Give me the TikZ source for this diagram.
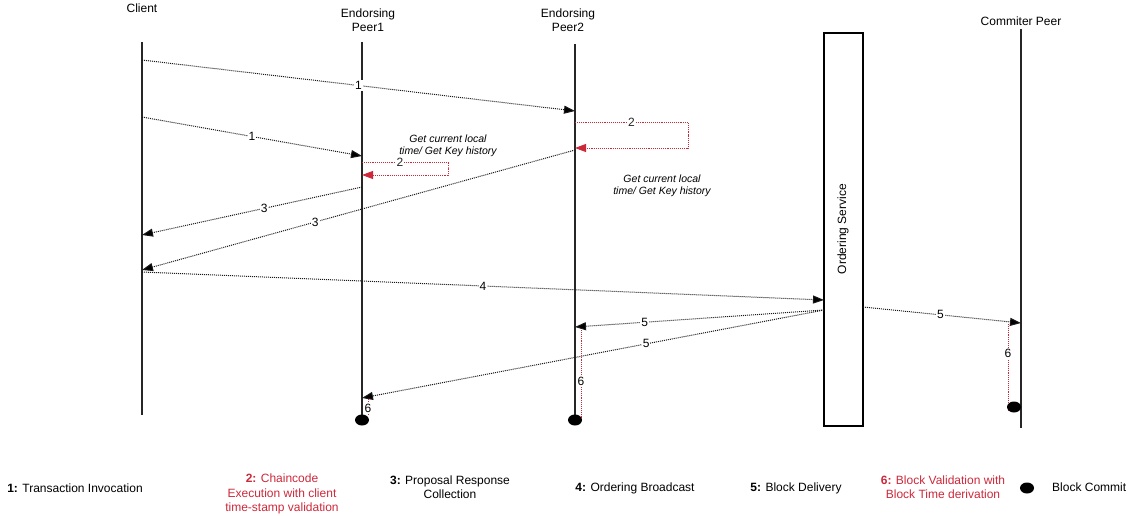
\documentclass[tikz,border=0pt]{standalone}
\usepackage{fontspec}
\setmainfont{Liberation Sans}
\usetikzlibrary{arrows.meta,shapes.geometric}
\definecolor{steppink}{RGB}{205,40,58}

\begin{document}
\begin{tikzpicture}[x=1pt,y=-1pt,
  every node/.style={font=\fontsize{12}{14}\selectfont, inner sep=0pt},
  lifeline/.style={line width=1.3pt, draw=black!85},
  msg/.style={densely dotted, line width=1pt, draw=black!90,
    -{Triangle[length=11pt,width=8pt,fill=black]}},
  selfmsg/.style={densely dotted, line width=0.9pt, draw=steppink,
    -{Triangle[length=11pt,width=8pt,fill=steppink]}},
  validate/.style={densely dotted, line width=0.9pt, draw=steppink},
  lbl/.style={fill=white, inner sep=1pt},
  headtext/.style={align=center, font=\fontsize{12}{14}\selectfont},
  note/.style={align=center, font=\fontsize{10.5}{12}\selectfont\itshape},
  commitdot/.style={ellipse, fill=black, minimum width=14pt, minimum height=11pt},
  legend/.style={align=center, font=\fontsize{12}{14.5}\selectfont},
]
\useasboundingbox (0,0) rectangle (1129,516);

% ---- participants ----
\node[headtext] (hclient) at (142,8) {Client};
\node[headtext] (hpeer1) at (368,20) {Endorsing\\Peer1};
\node[headtext] (hpeer2) at (568,20) {Endorsing\\Peer2};
\node[headtext] (hcommit) at (1021,21) {Commiter Peer};

\coordinate (clientTop) at (142,42);  \coordinate (clientBot) at (142,415);
\coordinate (peer1Top)  at (362,42);  \coordinate (peer1Bot)  at (362,415);
\coordinate (peer2Top)  at (575,44);  \coordinate (peer2Bot)  at (575,415);
\coordinate (commitTop) at (1021,29); \coordinate (commitBot) at (1021,428);

\draw[lifeline] (clientTop) -- (clientBot);
\draw[lifeline] (peer1Top) -- (peer1Bot);
\draw[lifeline] (peer2Top) -- (peer2Bot);
\draw[lifeline] (commitTop) -- (commitBot);

\node[draw, line width=1.3pt, minimum width=39pt, minimum height=393pt]
  (order) at (843.5,229.5) {};
\node[rotate=90] (ordertext) at (843,229) {Ordering Service};

% ---- message end points ----
\coordinate (m1aS) at (142,60);   \coordinate (m1aE) at (575,111);
\coordinate (m1bS) at (142,117);  \coordinate (m1bE) at (362,156);
\coordinate (m3aS) at (362,187);  \coordinate (m3aE) at (142,235);
\coordinate (m3bS) at (575,150);  \coordinate (m3bE) at (142,270);
\coordinate (m4S)  at (142,272);  \coordinate (m4E)  at (824,300);
\coordinate (m5aS) at (824,310);  \coordinate (m5aE) at (575,327);
\coordinate (m5bS) at (824,310);  \coordinate (m5bE) at (362,398);
\coordinate (m5cS) at (863,307);  \coordinate (m5cE) at (1021,323);

% ---- transaction invocation ----
\draw[msg] (m1aS) -- node[lbl,pos=0.5] {1} (m1aE);
\draw[msg] (m1bS) -- node[lbl,pos=0.5] {1} (m1bE);

% ---- chaincode execution (self calls) ----
\coordinate (l1S) at (362,162); \coordinate (l1R) at (448,168); \coordinate (l1E) at (362,175);
\draw[selfmsg] (l1S) -| node[lbl,pos=0.22,text=black!85] {2} (l1R) |- (l1E);
\coordinate (l2S) at (575,122); \coordinate (l2R) at (688,135); \coordinate (l2E) at (575,148);
\draw[selfmsg] (l2S) -| node[lbl,pos=0.25,text=black!85] {2} (l2R) |- (l2E);

\node[note] (note1) at (448,146) {Get current local\\time/ Get Key history};
\node[note] (note2) at (662,186) {Get current local\\time/ Get Key history};

% ---- proposal responses ----
\draw[msg] (m3aS) -- node[lbl,pos=0.445] {3} (m3aE);
\draw[msg] (m3bS) -- node[lbl,pos=0.6] {3} (m3bE);

% ---- ordering broadcast ----
\draw[msg] (m4S) -- node[lbl,pos=0.5] {4} (m4E);

% ---- block delivery ----
\draw[msg] (m5aS) -- node[lbl,pos=0.72] {5} (m5aE);
\draw[msg] (m5bS) -- node[lbl,pos=0.385] {5} (m5bE);
\draw[msg] (m5cS) -- node[lbl,pos=0.49] {5} (m5cE);

% ---- block validation ----
\coordinate (v2S) at (581,330); \coordinate (v2E) at (581,418);
\draw[validate] (v2S) -- node[lbl,pos=0.58] {6} (v2E);
\coordinate (v1S) at (368,399); \coordinate (v1E) at (368,416);
\draw[validate] (v1S) -- node[lbl,pos=0.55] {6} (v1E);
\coordinate (v3S) at (1008,324); \coordinate (v3E) at (1008,411);
\draw[validate] (v3S) -- node[lbl,pos=0.34] {6} (v3E);

% ---- commit markers ----
\node[commitdot] (dot1) at (362,420) {};
\node[commitdot] (dot2) at (575,420) {};
\node[commitdot] (dot3) at (1014,407) {};

% ---- legend ----
\node[legend] (leg1) at (75,488) {\textbf{1:} Transaction Invocation};
\node[legend, text=steppink] (leg2) at (282,494) {\textbf{2:} Chaincode\\Execution with client\\time-stamp validation};
\node[legend] (leg3) at (450,487) {\textbf{3:} Proposal Response\\Collection};
\node[legend] (leg4) at (635,488) {\textbf{4:} Ordering Broadcast};
\node[legend] (leg5) at (796,488) {\textbf{5:} Block Delivery};
\node[legend, text=steppink] (leg6) at (943,487) {\textbf{6:} Block Validation with\\Block Time derivation};
\node[commitdot] (legdot) at (1027,488) {};
\node[legend, anchor=west] (leg7) at (1052,487) {Block Commit};
\end{tikzpicture}
\end{document}
